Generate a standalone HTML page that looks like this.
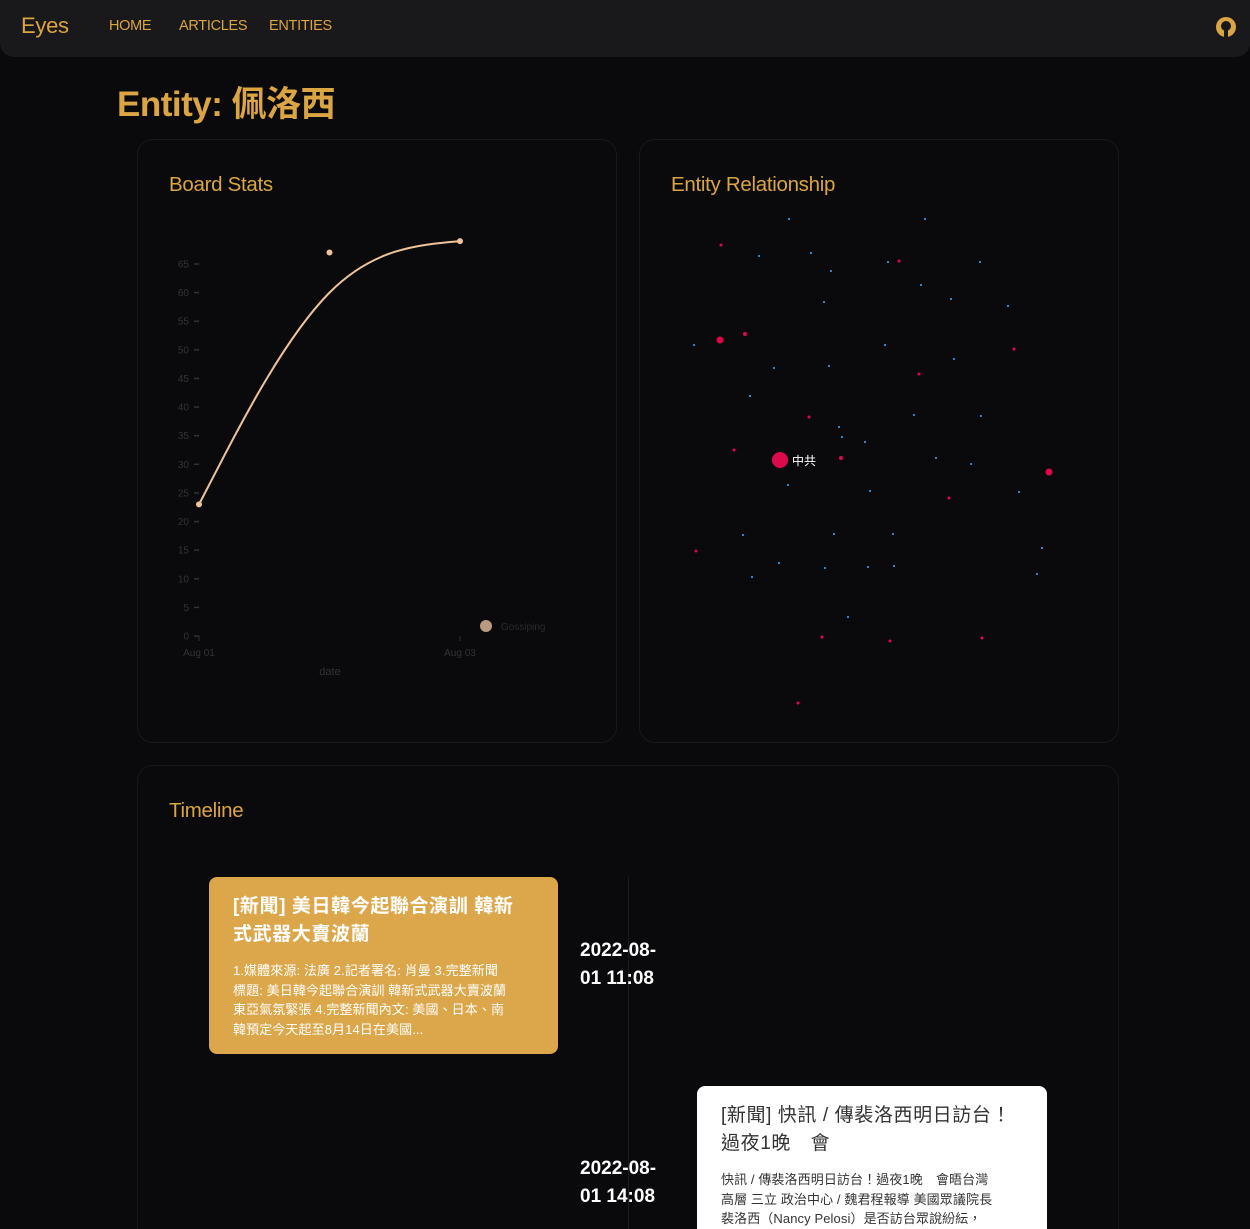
<!DOCTYPE html>
<html><head><meta charset="utf-8">
<style>
*{box-sizing:border-box;margin:0;padding:0}
html,body{width:1250px;height:1229px;overflow:hidden}
body{background:#0a0a0c;font-family:"Liberation Sans","Noto Sans CJK TC",sans-serif;position:relative}
.nav{position:absolute;left:0;top:0;width:1250px;height:57px;background:#19191b;border-radius:0 0 14px 14px}
.nav span{position:absolute;color:#dba543;top:18px;font-size:14.5px;letter-spacing:-0.3px}
.title{position:absolute;left:117px;top:76px;font-size:35px;color:#dba543;font-weight:bold;letter-spacing:-0.5px}
.card{position:absolute;border:1px solid #18181b;border-radius:16px;background:#0a0a0c}
.card h2{position:absolute;left:31px;top:33px;font-size:20.5px;color:#dba543;font-weight:normal;letter-spacing:-0.3px}
.tc{position:absolute;border-radius:8px;padding:16px 24px}
.tc h3{font-size:19px;line-height:28px;font-weight:bold;margin-bottom:12px;letter-spacing:0.6px}
.tc p{font-size:13px;line-height:19.5px;letter-spacing:0.1px}
.date{position:absolute;left:580px;color:#fff;font-size:19px;font-weight:bold;line-height:28px}
</style></head><body>
<div class="nav">
<span style="left:21px;top:13px;font-size:22px">Eyes</span>
<span style="left:109px">HOME</span>
<span style="left:179px">ARTICLES</span>
<span style="left:269px">ENTITIES</span>
<svg style="position:absolute;left:1215px;top:16px" width="22" height="22" viewBox="0 0 22 22"><circle cx="11" cy="11" r="10" fill="#dba543"/><circle cx="11" cy="10" r="5" fill="#19191b"/><rect x="9" y="14" width="4" height="7" fill="#19191b"/></svg>
</div>
<div class="title">Entity: 佩洛西</div>

<div class="card" style="left:137px;top:139px;width:480px;height:604px"><h2>Board Stats</h2></div>
<div class="card" style="left:639px;top:139px;width:480px;height:604px"><h2>Entity Relationship</h2></div>
<div class="card" style="left:137px;top:765px;width:982px;height:500px"><h2>Timeline</h2></div>

<svg id="chart" style="position:absolute;left:0;top:0" width="1250" height="760"></svg>

<div style="position:absolute;left:628px;top:877px;width:1px;height:360px;background:#1c1c20"></div>
<div class="tc" style="left:209px;top:877px;width:349px;height:177px;background:#dba74a;color:#fff">
<h3>[新聞] 美日韓今起聯合演訓 韓新<br>式武器大賣波蘭</h3>
<p>1.媒體來源: 法廣 2.記者署名: 肖曼 3.完整新聞<br>標題: 美日韓今起聯合演訓 韓新式武器大賣波蘭<br>東亞氣氛緊張 4.完整新聞內文: 美國、日本、南<br>韓預定今天起至8月14日在美國...</p></div>
<div class="date" style="top:937px">2022-08-<br>01 11:08</div>
<div class="tc" style="left:697px;top:1086px;width:350px;height:200px;background:#fff;color:#333">
<h3 style="font-weight:normal">[新聞] 快訊 / 傳裴洛西明日訪台！<br>過夜1晚　會</h3>
<p>快訊 / 傳裴洛西明日訪台！過夜1晚　會晤台灣<br>高層 三立 政治中心 / 魏君程報導 美國眾議院長<br>裴洛西（Nancy Pelosi）是否訪台眾說紛紜，</p></div>
<div class="date" style="top:1155px">2022-08-<br>01 14:08</div>

<script>
const categories=["Aug 01","Aug 02","Aug 03"];
const gossipingValues=[23,67,69];
const yTicks=[0,5,10,15,20,25,30,35,40,45,50,55,60,65];
const xTickLabels=["Aug 01","Aug 03"];
const blueNodes=[[789,219],[925,219],[759,256],[811,253],[831,271],[888,262],[921,285],[980,262],[824,302],[951,299],[1008,306],[694,345],[885,345],[954,359],[774,368],[829,366],[750,396],[914,415],[981,416],[839,427],[842,437],[865,442],[936,458],[971,464],[870,491],[1019,492],[743,535],[834,534],[893,534],[779,563],[752,577],[825,568],[868,567],[894,566],[1042,548],[1037,574],[848,617],[788,485]];
const redNodes=[[721,245,1.5],[899,261,1.5],[745,334,2],[1014,349,1.5],[919,374,1.5],[809,417,1.5],[734,450,1.5],[841,458,2],[949,498,1.5],[696,551,1.5],[822,637,1.5],[890,641,1.5],[982,638,1.5],[798,703,1.5],[720,340,3.5],[1049,472,3.5]];

const NS="http://www.w3.org/2000/svg";
const svg=document.getElementById('chart');
function mk(t,a,parent){const e=document.createElementNS(NS,t);for(const k in a)e.setAttribute(k,a[k]);(parent||svg).appendChild(e);return e;}
const X=i=>199+i*(460-199)/(categories.length-1);
const Y=v=>636-v*(636-264)/65;
yTicks.forEach(t=>{
 const l=mk('line',{x1:194,x2:199,y1:Y(t),y2:Y(t),stroke:'#333',"stroke-width":1.5});
 
 
 const tx=mk('text',{x:189,y:Y(t)+3.5,"text-anchor":"end","font-size":10,fill:'#333'});tx.textContent=t;
 
 
});
xTickLabels.forEach(lb=>{
 const i=categories.indexOf(lb);
 mk('line',{x1:X(i),x2:X(i),y1:636,y2:641,stroke:'#333'});
 const tx=mk('text',{x:X(i),y:656,"text-anchor":"middle","font-size":10,fill:'#333'});tx.textContent=lb;
 
 
});
const xt=mk('text',{x:330,y:675,"text-anchor":"middle","font-size":11,fill:'#333'});xt.textContent='date';


const p=gossipingValues.map((v,i)=>[X(i),Y(v)]);
let d=`M${p[0][0]},${p[0][1]}`;
let [x0,y0]=p[0],[x1,y1]=p[1];
d+=`L${(5*x0+x1)/6},${(5*y0+y1)/6}`;
for(let i=2;i<p.length;i++){const [x,y]=p[i];
 d+=`C${(2*x0+x1)/3},${(2*y0+y1)/3} ${(x0+2*x1)/3},${(y0+2*y1)/3} ${(x0+4*x1+x)/6},${(y0+4*y1+y)/6}`;
 x0=x1;y0=y1;x1=x;y1=y;}
d+=`C${(2*x0+x1)/3},${(2*y0+y1)/3} ${(x0+2*x1)/3},${(y0+2*y1)/3} ${x1},${y1}`;
const path=mk('path',{d:d,fill:'none',stroke:'#efc39a',"stroke-width":2});


p.forEach(q=>{const c=mk('circle',{cx:q[0],cy:q[1],r:3,fill:'#efc39a'});
 
 });
const lc=mk('circle',{cx:486,cy:626,r:6,fill:'#b99a80'});


const lt=mk('text',{x:501,y:630,"font-size":10,fill:'#2a2a2a'});lt.textContent='Gossiping';


blueNodes.forEach(n=>{const c=mk('circle',{cx:n[0],cy:n[1],r:1.1,fill:'#3a8fd9'});
 
 });
redNodes.forEach(n=>{const c=mk('circle',{cx:n[0],cy:n[1],r:n[2],fill:'#e0064a'});
 
 });
const big=mk('circle',{cx:780,cy:460,r:8,fill:'#dc0a4c'});


const bt=mk('text',{x:792,y:465,"font-size":12,fill:'#fff'});bt.textContent='中共';


</script>
</body></html>
